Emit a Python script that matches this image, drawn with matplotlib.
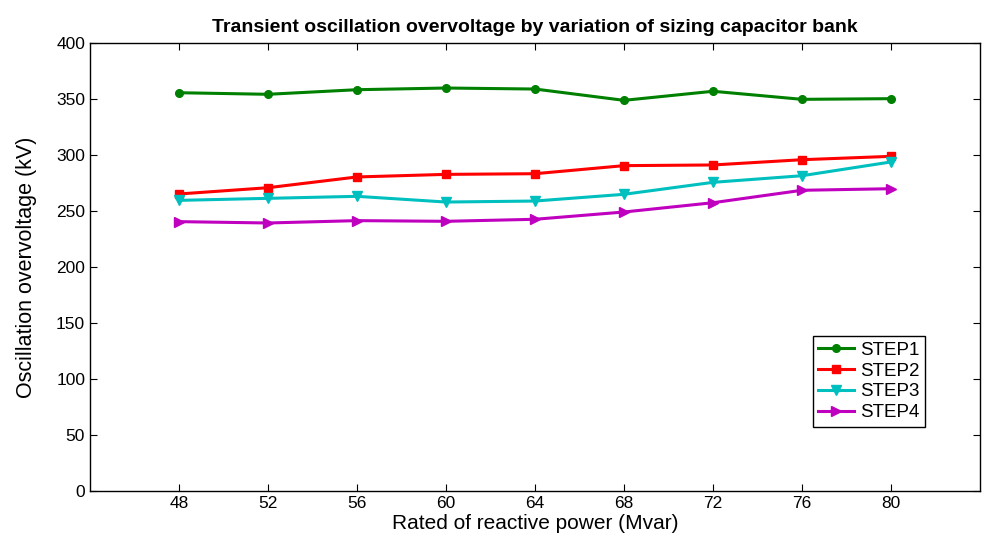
import matplotlib
matplotlib.use("Agg")
import matplotlib.pyplot as plt

plt.rcParams['font.family'] = ['Liberation Sans', 'DejaVu Sans']

potencia = [48, 52, 56, 60, 64, 68, 72, 76, 80]
step1 = [355.6, 354.2, 358.3, 359.8, 358.9, 348.8, 356.9, 349.7, 350.3]
step2 = [265.2, 270.8, 280.4, 282.7, 283.3, 290.5, 291.1, 295.8, 298.8]
step3 = [259.5, 261.3, 263.1, 258.0, 258.9, 264.9, 275.6, 281.5, 293.8]
step4 = [240.5, 239.3, 241.4, 240.8, 242.6, 249.1, 257.4, 268.5, 269.9]

fig = plt.figure(figsize=(9.82, 5.44), dpi=100)
ax = fig.add_axes([90/982, 53/544, 890/982, 448/544])

ax.plot(potencia, step1, color='#008000', marker='o', markersize=5.5, linewidth=2.2, label='STEP1')
ax.plot(potencia, step2, color='#ff0000', marker='s', markersize=5.5, linewidth=2.2, label='STEP2')
ax.plot(potencia, step3, color='#00bfbf', marker='v', markersize=7.5, linewidth=2.2, label='STEP3')
ax.plot(potencia, step4, color='#bf00bf', marker='>', markersize=7.5, linewidth=2.2, label='STEP4')

ax.set_xlim(44, 84)
ax.set_ylim(0, 400)
ax.set_xticks(potencia)
ax.set_yticks(range(0, 401, 50))
ax.tick_params(direction='in', top=True, right=True, labelsize=12.5, length=5)
for s in ax.spines.values():
    s.set_linewidth(1.0)

ax.set_xlabel('Rated of reactive power (Mvar)', fontsize=15, labelpad=2)
ax.set_ylabel('Oscillation overvoltage (kV)', fontsize=15.5, labelpad=14)
ax.set_title('Transient oscillation overvoltage by variation of sizing capacitor bank',
             fontsize=14, fontweight='bold', pad=8)

leg = ax.legend(loc='lower right', bbox_to_anchor=(0.938, 0.143), borderaxespad=0,
                fontsize=13.5, fancybox=False, edgecolor='black', framealpha=1,
                handlelength=1.9, borderpad=0.3, labelspacing=0.2, handletextpad=0.3)
leg.get_frame().set_linewidth(1.0)

fig.savefig('out.png', dpi=100)
